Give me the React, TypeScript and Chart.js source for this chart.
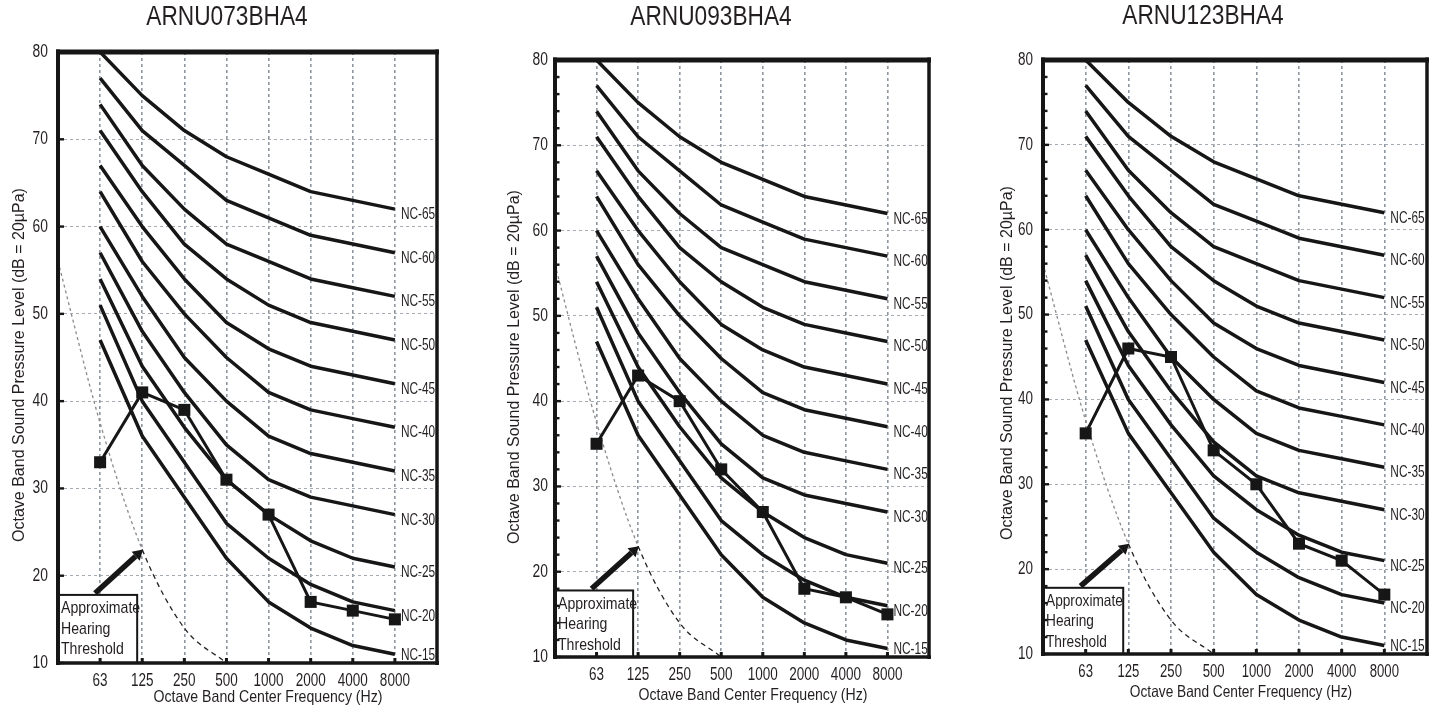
import React, { useEffect, useRef } from 'react';
import { Chart, registerables } from 'chart.js';

Chart.register(...registerables);

// ---------- data ----------
const FREQ_LABELS = ['63', '125', '250', '500', '1000', '2000', '4000', '8000'];
const FREQ_POS = [1, 2, 3, 4, 5, 6, 7, 8];
const Y_TICKS = [10, 20, 30, 40, 50, 60, 70, 80];

const NC_LABELS = ['NC-15', 'NC-20', 'NC-25', 'NC-30', 'NC-35', 'NC-40', 'NC-45', 'NC-50', 'NC-55', 'NC-60', 'NC-65'];
const NC_15 = [47, 36, 29, 22, 17, 14, 12, 11];
const NC_20 = [51, 40, 33, 26, 22, 19, 17, 16];
const NC_25 = [54, 44, 37, 31, 27, 24, 22, 21];
const NC_30 = [57, 48, 41, 35, 31, 29, 28, 27];
const NC_35 = [60, 52, 45, 40, 36, 34, 33, 32];
const NC_40 = [64, 56, 50, 45, 41, 39, 38, 37];
const NC_45 = [67, 60, 54, 49, 46, 44, 43, 42];
const NC_50 = [71, 64, 58, 54, 51, 49, 48, 47];
const NC_55 = [74, 67, 62, 58, 56, 54, 53, 52];
const NC_60 = [77, 71, 67, 63, 61, 59, 58, 57];
const NC_65 = [80, 75, 71, 68, 66, 64, 63, 62];
const NC_CURVES = [NC_15, NC_20, NC_25, NC_30, NC_35, NC_40, NC_45, NC_50, NC_55, NC_60, NC_65];

// approximate hearing threshold (position 0 = 31.5 Hz band, unlabeled)
const THRESHOLD_POS = [0, 1, 2, 3, 4];
const THRESHOLD_DB = [56, 37.5, 23, 14, 10];

const UNITS = ['ARNU073BHA4', 'ARNU093BHA4', 'ARNU123BHA4'];
const MEASURED_073 = [33, 41, 39, 31, 27, 17, 16, 15];
const MEASURED_093 = [35, 43, 40, 32, 27, 18, 17, 15];
const MEASURED_123 = [36, 46, 45, 34, 30, 23, 21, 17];
const MEASURED = [MEASURED_073, MEASURED_093, MEASURED_123];

// annotation (in axis units)
const ARROW_FROM = [0.88, 18];
const ARROW_TO = [2.02, 23];
const BOX_X = [0, 1.88];
const BOX_Y = [10, 17.8];
const BOX_TEXT = ['Approximate', 'Hearing', 'Threshold'];
const Y_TITLE = 'Octave Band Sound Pressure Level (dB = 20\u00B5Pa)';
const X_TITLE = 'Octave Band Center Frequency (Hz)';

// ---------- layout / style ----------
const REG = '"Liberation Sans", Arial, sans-serif';
const TXT = '#231f20';
const INK = '#161616';
const H = 709;
const SX = 0.83; // horizontal text compression seen in the reference
const SX_NC = 0.72;
const SX_TICK = 0.75;

type Layout = {
  canvasLeft: number; canvasW: number;
  plot: { l: number; r: number; t: number; b: number };
  title: { x: number; y: number };
  xTitle: { x: number; y: number; size: number };
  yTitle: { x: number; y: number };
  yTickPad: number; xTickOff: number; minorStep: number; boxFont: number; tickFont: number;
};

const LAYOUTS: Layout[] = [
  { canvasLeft: 0, canvasW: 480, plot: { l: 58, r: 437, t: 52, b: 663 }, title: { x: 227, y: 18 }, xTitle: { x: 268, y: 697, size: 17 }, yTitle: { x: 20, y: 365 }, yTickPad: 10, xTickOff: 18, minorStep: 10, boxFont: 17, tickFont: 18 },
  { canvasLeft: 480, canvasW: 485, plot: { l: 555, r: 929, t: 60, b: 657 }, title: { x: 711, y: 18 }, xTitle: { x: 753, y: 695, size: 17 }, yTitle: { x: 515, y: 367 }, yTickPad: 7, xTickOff: 18, minorStep: 2, boxFont: 17, tickFont: 18 },
  { canvasLeft: 965, canvasW: 474, plot: { l: 1043, r: 1427, t: 60, b: 654 }, title: { x: 1203, y: 17 }, xTitle: { x: 1241, y: 692, size: 16.5 }, yTitle: { x: 1008, y: 363 }, yTickPad: 10, xTickOff: 18, minorStep: 2, boxFont: 16.5, tickFont: 17.5 },
];

function drawText(ctx: CanvasRenderingContext2D, text: string, x: number, y: number, size: number, align: CanvasTextAlign, sx: number) {
  ctx.save();
  ctx.translate(x, y);
  ctx.scale(sx, 1);
  ctx.font = `${size}px ${REG}`;
  ctx.textAlign = align;
  ctx.textBaseline = 'middle';
  ctx.fillText(text, 0, 0);
  ctx.restore();
}

function Panel({ layout, title, measured }: { layout: Layout; title: string; measured: number[] }) {
  const ref = useRef<HTMLCanvasElement>(null);

  useEffect(() => {
    const canvas = ref.current!;
    const L = layout;
    const toX = (px: number) => px - L.canvasLeft;
    const yAxisW = 30;
    const xAxisH = 40;

    const datasets: any[] = [
      {
        label: title,
        data: measured.map((v, i) => ({ x: FREQ_POS[i], y: v })),
        borderColor: INK,
        backgroundColor: INK,
        borderWidth: 3,
        pointStyle: 'rect',
        pointRadius: 8.5,
        pointBackgroundColor: INK,
        pointBorderWidth: 0,
        order: 0,
      },
      ...NC_CURVES.map((c, k) => ({
        label: NC_LABELS[k],
        data: c.map((v, i) => ({ x: FREQ_POS[i], y: v })),
        borderColor: INK,
        borderWidth: 3.5,
        borderJoinStyle: 'round',
        pointRadius: 0,
        order: 2,
      })),
      {
        label: 'Approximate Hearing Threshold',
        data: THRESHOLD_POS.map((x, i) => ({ x, y: THRESHOLD_DB[i] })),
        borderColor: '#222',
        borderWidth: 1.3,
        borderDash: [5, 4],
        pointRadius: 0,
        cubicInterpolationMode: 'monotone',
        order: 3,
        segment: {
          borderColor: (c: any) => (c.p0DataIndex < 2 ? '#8a8a8a' : '#222'),
          borderDash: (c: any) => (c.p0DataIndex < 2 ? [3, 3] : [5, 4]),
        },
      },
    ];

    const decor = {
      id: 'decor',
      afterDatasetsDraw(chart: any) {
        const { ctx, chartArea: a, scales } = chart;
        const x = scales.x;
        const y = scales.y;
        ctx.save();

        // NC labels
        ctx.fillStyle = TXT;
        NC_CURVES.forEach((c, k) => {
          const px = x.getPixelForValue(FREQ_POS[7]) + 6;
          let py = y.getPixelForValue(c[7]) + 5.5;
          py = Math.min(py, a.bottom - 8);
          drawText(ctx, NC_LABELS[k], px, py, 16.5, 'left', SX_NC);
        });

        // arrow
        const ax0 = x.getPixelForValue(ARROW_FROM[0]);
        const ay0 = y.getPixelForValue(ARROW_FROM[1]);
        const ax1 = x.getPixelForValue(ARROW_TO[0]);
        const ay1 = y.getPixelForValue(ARROW_TO[1]);
        const dx = ax1 - ax0, dy = ay1 - ay0;
        const len = Math.hypot(dx, dy);
        const ux = dx / len, uy = dy / len;
        const head = 10, hw = 6;
        ctx.strokeStyle = INK;
        ctx.fillStyle = INK;
        ctx.lineWidth = 5.5;
        ctx.lineCap = 'butt';
        ctx.beginPath();
        ctx.moveTo(ax0, ay0);
        ctx.lineTo(ax1 - ux * head, ay1 - uy * head);
        ctx.stroke();
        ctx.beginPath();
        ctx.moveTo(ax1, ay1);
        ctx.lineTo(ax1 - ux * head - uy * hw, ay1 - uy * head + ux * hw);
        ctx.lineTo(ax1 - ux * head + uy * hw, ay1 - uy * head - ux * hw);
        ctx.closePath();
        ctx.fill();

        // threshold box
        const bx0 = x.getPixelForValue(BOX_X[0]);
        const bx1 = x.getPixelForValue(BOX_X[1]);
        const by0 = y.getPixelForValue(BOX_Y[1]);
        const by1 = y.getPixelForValue(BOX_Y[0]);
        ctx.fillStyle = '#fff';
        ctx.fillRect(bx0, by0, bx1 - bx0, by1 - by0);
        ctx.strokeStyle = INK;
        ctx.lineWidth = 2;
        ctx.strokeRect(bx0, by0, bx1 - bx0, by1 - by0);
        ctx.fillStyle = TXT;
        BOX_TEXT.forEach((t, i) => drawText(ctx, t, bx0 + 3, by0 + 13.5 + i * 20.5, L.boxFont, 'left', SX));
        ctx.restore();
      },
      afterDraw(chart: any) {
        const { ctx, chartArea: a, scales } = chart;
        const x = scales.x;
        const y = scales.y;
        ctx.save();
        ctx.strokeStyle = INK;
        ctx.fillStyle = INK;
        const line = (x0: number, y0: number, x1: number, y1: number, w: number) => {
          ctx.lineWidth = w;
          ctx.beginPath();
          ctx.moveTo(x0, y0);
          ctx.lineTo(x1, y1);
          ctx.stroke();
        };
        line(a.left, a.top - 2.5, a.left, a.bottom + 2, 4);
        line(a.right, a.top - 2.5, a.right, a.bottom + 2, 3.5);
        line(a.left - 2, a.top, a.right + 2, a.top, 5);
        line(a.left - 2, a.bottom, a.right + 2, a.bottom, 3.5);
        FREQ_POS.forEach((p) => {
          const px = x.getPixelForValue(p);
          ctx.fillRect(px - 1.5, a.bottom - 5, 3, 5);
        });
        for (let v = 10; v <= 80; v += L.minorStep) {
          const py = y.getPixelForValue(v);
          const l = v % 10 === 0 ? 6 : 4.5;
          ctx.fillRect(a.left, py - 1.2, l, 2.4);
        }

        // tick labels from the chart's own scales
        ctx.fillStyle = TXT;
        x.ticks.forEach((t: any) => {
          const i = FREQ_POS.indexOf(Number(t.value));
          if (i < 0) return;
          drawText(ctx, FREQ_LABELS[i], x.getPixelForValue(t.value), a.bottom + L.xTickOff, L.tickFont, 'center', SX_TICK);
        });
        y.ticks.forEach((t: any) => {
          if (!Y_TICKS.includes(Number(t.value))) return;
          drawText(ctx, String(t.value), a.left - L.yTickPad, y.getPixelForValue(t.value), L.tickFont, 'right', 0.77);
        });

        // titles
        drawText(ctx, title, toX(L.title.x), L.title.y, 27, 'center', 0.84);
        drawText(ctx, X_TITLE, toX(L.xTitle.x), L.xTitle.y, L.xTitle.size, 'center', SX);
        ctx.save();
        ctx.translate(toX(L.yTitle.x), L.yTitle.y);
        ctx.rotate(-Math.PI / 2);
        ctx.font = `16px ${REG}`;
        ctx.textAlign = 'center';
        ctx.textBaseline = 'middle';
        ctx.fillText(Y_TITLE, 0, 0);
        ctx.restore();
        ctx.restore();
      },
    };

    const chart = new Chart(canvas, {
      type: 'line',
      data: { datasets },
      options: {
        animation: false,
        responsive: false,
        devicePixelRatio: 1,
        layout: {
          padding: {
            left: toX(L.plot.l) - yAxisW,
            right: L.canvasW - toX(L.plot.r),
            top: L.plot.t,
            bottom: H - L.plot.b - xAxisH,
          },
        },
        plugins: {
          legend: { display: false },
          tooltip: { enabled: false },
          title: { display: false },
        },
        scales: {
          x: {
            type: 'linear',
            min: 0,
            max: 9,
            afterFit: (s: any) => { s.height = xAxisH; },
            ticks: { stepSize: 1, autoSkip: false, maxRotation: 0, display: false },
            grid: {
              drawTicks: false,
              lineWidth: 1.6,
              color: (c: any) => (c.tick && FREQ_POS.includes(c.tick.value) ? '#8e96a0' : 'transparent'),
            },
            border: { display: false, dash: [3, 3] },
          },
          y: {
            type: 'linear',
            min: Y_TICKS[0],
            max: Y_TICKS[Y_TICKS.length - 1],
            afterFit: (s: any) => { s.width = yAxisW; },
            ticks: { stepSize: 10, autoSkip: false, display: false },
            grid: {
              drawTicks: false,
              lineWidth: 1,
              color: (c: any) => (c.tick && c.tick.value > 10 && c.tick.value < 80 ? '#a4abb3' : 'transparent'),
            },
            border: { display: false, dash: [3, 3] },
          },
        },
      } as any,
      plugins: [decor],
    });
    return () => chart.destroy();
  }, [layout, title, measured]);

  return (
    <canvas
      ref={ref}
      width={layout.canvasW}
      height={H}
      style={{ position: 'absolute', left: layout.canvasLeft, top: 0, width: layout.canvasW, height: H }}
    />
  );
}

export default function App() {
  return (
    <div style={{ position: 'fixed', left: 0, top: 0, width: 1439, height: H, background: '#fff' }}>
      {LAYOUTS.map((l, i) => (
        <Panel key={i} layout={l} title={UNITS[i]} measured={MEASURED[i]} />
      ))}
    </div>
  );
}
